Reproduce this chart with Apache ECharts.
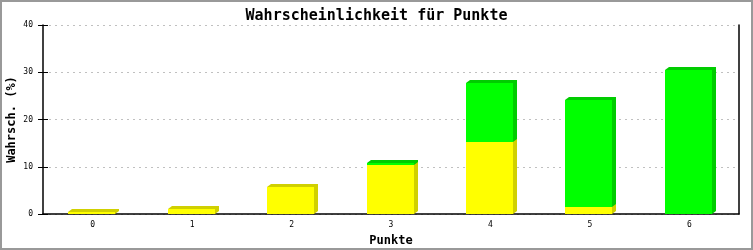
<!DOCTYPE html>
<html>
<head>
<meta charset="utf-8">
<script src="https://cdn.jsdelivr.net/npm/echarts@6/dist/echarts.min.js"></script>
<style>html,body{margin:0;padding:0;background:#fff}#c{width:753px;height:250px}</style>
</head>
<body>
<div id="c"></div>
<script>
const categories = ['0', '1', '2', '3', '4', '5', '6'];
const yellowValues = [0.42, 1.06, 5.78, 10.37, 15.3, 1.55, 0];
const greenValues = [0, 0, 0, 0.36, 12.5, 22.55, 30.5];
const yTicks = [0, 10, 20, 30, 40];

const titleText = 'Wahrscheinlichkeit für Punkte';
const xName = 'Punkte';
const yName = 'Wahrsch. (%)';
const mono = '"DejaVu Sans Mono", monospace';

function buildData(vals, bases) {
  return vals.map((v, i) => [i, bases[i] + v, bases[i], v]);
}

function makeRender(front, shade) {
  return function (params, api) {
    const v = api.value(3);
    if (!(v > 0)) return null;
    const idx = api.value(0);
    const top = api.coord([idx, api.value(1)]);
    const bot = api.coord([idx, api.value(2)]);
    const w = api.size([1, 0])[0] * 0.47;
    const x0 = Math.round(top[0] - w / 2 - 1), x1 = Math.round(x0 + w);
    const yT = Math.round(top[1]), yB = Math.round(bot[1]);
    const dx = 4, dy = 3;
    return {
      type: 'group',
      children: [
        { type: 'polygon', shape: { points: [[x0, yT], [x0 + dx, yT - dy], [x1 + dx, yT - dy], [x1 + dx, yB - dy], [x1, yB]] }, style: { fill: shade } },
        { type: 'rect', shape: { x: x0, y: yT, width: x1 - x0, height: yB - yT }, style: { fill: front } }
      ]
    };
  };
}

const baseZero = yellowValues.map(() => 0);
const chart = echarts.init(document.getElementById('c'), null, { renderer: 'canvas' });
chart.setOption({
  animation: false,
  backgroundColor: '#fff',
  title: { text: titleText, left: 'center', top: 4, textStyle: { fontFamily: mono, fontSize: 15, fontWeight: 'bold', color: '#000' } },
  grid: { left: 43, right: 14, top: 25, bottom: 36, containLabel: false, outerBoundsMode: 'none' },
  graphic: [{ type: 'rect', shape: { x: 1, y: 1, width: 751, height: 248 }, style: { fill: 'none', stroke: '#999', lineWidth: 2 }, silent: true }],
  xAxis: {
    type: 'category', data: categories,
    axisLine: { lineStyle: { color: '#000', width: 1.5 } },
    axisTick: { show: false },
    axisLabel: { fontFamily: mono, fontSize: 8, color: '#000', margin: 7 },
    name: xName, nameLocation: 'middle', nameGap: 21, nameMoveOverlap: false,
    nameTextStyle: { fontFamily: mono, fontSize: 12, fontWeight: 'bold', color: '#000' }
  },
  yAxis: [
    {
      type: 'value', min: yTicks[0], max: yTicks[yTicks.length - 1], interval: 10,
      axisLine: { show: true, lineStyle: { color: '#000', width: 1.5 } },
      axisTick: { show: true, length: 5, lineStyle: { color: '#000' } },
      axisLabel: { fontFamily: mono, fontSize: 8, color: '#000', margin: 10 },
      splitLine: { show: true, lineStyle: { color: '#c0c0c0', type: [2, 4] } },
      name: yName, nameLocation: 'middle', nameGap: 25, nameRotate: 90, nameMoveOverlap: false,
      nameTextStyle: { fontFamily: mono, fontSize: 12, fontWeight: 'bold', color: '#000' }
    },
    {
      type: 'value', min: 0, max: 40, interval: 10, position: 'left', offset: 0,
      axisLine: { show: false }, axisLabel: { show: false }, splitLine: { show: false },
      axisTick: { show: true, inside: true, length: 5, lineStyle: { color: '#000' } }
    },
    {
      type: 'value', min: 0, max: 40, interval: 10, position: 'right',
      axisLine: { show: true, lineStyle: { color: '#000', width: 1.5 } },
      axisLabel: { show: false }, splitLine: { show: false }, axisTick: { show: false }
    }
  ],
  series: [
    { type: 'custom', name: 'gelb', renderItem: makeRender('#ffff00', '#d0d000'), data: buildData(yellowValues, baseZero), encode: { x: 0, y: 1 }, clip: false },
    { type: 'custom', name: 'grün', renderItem: makeRender('#00ff00', '#00cc00'), data: buildData(greenValues, yellowValues), encode: { x: 0, y: 1 }, clip: false }
  ]
});
</script>
</body>
</html>
